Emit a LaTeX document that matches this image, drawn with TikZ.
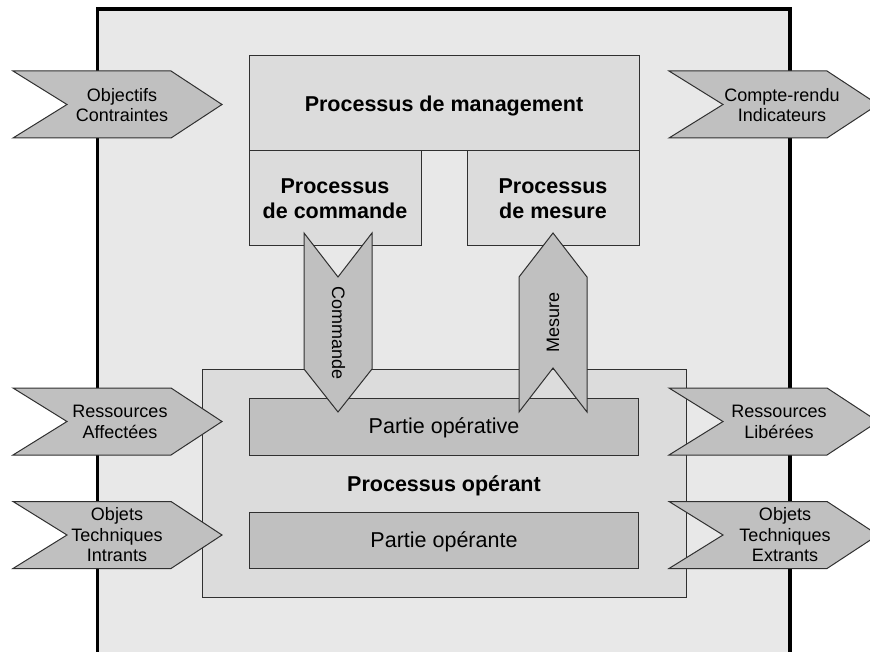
\documentclass[tikz,border=0pt]{standalone}
\usepackage{fontspec}
\setmainfont{Liberation Sans}
\definecolor{outerfill}{HTML}{E8E8E8}
\definecolor{boxfill}{HTML}{DCDCDC}
\definecolor{darkfill}{HTML}{C0C0C0}
\definecolor{edge}{HTML}{303030}
\begin{document}
\begin{tikzpicture}[x=1pt,y=-1pt,
  lbl/.style={font=\fontsize{18}{20.5}\selectfont, align=center, inner sep=0pt},
  blbl/.style={font=\fontsize{21.5}{25}\selectfont\bfseries, align=center, inner sep=0pt},
  rlbl/.style={font=\fontsize{21.5}{25}\selectfont, inner sep=0pt},
  boxline/.style={draw=edge, line width=1pt},
  chevshape/.style={draw=edge, line width=1pt, fill=darkfill, line join=miter},
  chevleft/.pic={\path[chevshape] (-104.5,-33.5) -- (53.5,-33.5) -- (104.5,0) -- (53.5,33.5) -- (-104.5,33.5) -- (-50.5,0) -- cycle;}
]
\useasboundingbox (0,0) rectangle (870,652);
\clip (0,0) rectangle (870,652);

% outer frame
\fill[outerfill] (97.5,9) rectangle (790,680);
\draw[line width=3.6pt, line join=miter] (97.5,680) -- (97.5,9) -- (790,9) -- (790,680);

% management process
\path[boxline, fill=boxfill] (249,56) rectangle (639,151);
\path[boxline, fill=boxfill] (249,151) rectangle (421,246);
\path[boxline, fill=boxfill] (467,151) rectangle (639,246);
\node[blbl, anchor=base] (mgmt) at (444,112) {Processus de management};
\node[blbl] (cmdbox) at (335,198.5) {Processus\\de commande};
\node[blbl] (mesbox) at (553,198.5) {Processus\\de mesure};

% operating process
\path[boxline, fill=boxfill] (202,369) rectangle (686,597);
\path[boxline, fill=darkfill] (249,398) rectangle (638,455);
\path[boxline, fill=darkfill] (249,512) rectangle (638,568);
\node[rlbl, anchor=base] (pov) at (444,433) {Partie opérative};
\node[blbl, anchor=base] (pop) at (444,491) {Processus opérant};
\node[rlbl, anchor=base] (pon) at (444,547) {Partie opérante};

% vertical flows
\path[chevshape] (304,233) -- (338,277) -- (372,233) -- (372,369) -- (338,412) -- (304,369) -- cycle;
\node[lbl, rotate=-90] (cmd) at (338.5,333) {Commande};
\path[chevshape] (519,277) -- (553,233) -- (587,277) -- (587,412) -- (553,368) -- (519,412) -- cycle;
\node[lbl, rotate=90] (mes) at (553,322) {Mesure};

% left inputs
\pic at (117.5,104.5) {chevleft};
\node[lbl] (in1) at (122,105) {Objectifs\\Contraintes};
\pic at (117.5,421.5) {chevleft};
\node[lbl] (in2) at (120,422) {Ressources\\Affectées};
\pic at (117.5,535) {chevleft};
\node[lbl] (in3) at (117,535) {Objets\\Techniques\\Intrants};

% right outputs
\pic at (773.5,104.5) {chevleft};
\node[lbl] (out1) at (782,105) {Compte-rendu\\Indicateurs};
\pic at (773.5,421.5) {chevleft};
\node[lbl] (out2) at (779,422) {Ressources\\Libérées};
\pic at (773.5,535) {chevleft};
\node[lbl] (out3) at (785,535) {Objets\\Techniques\\Extrants};
\end{tikzpicture}
\end{document}
